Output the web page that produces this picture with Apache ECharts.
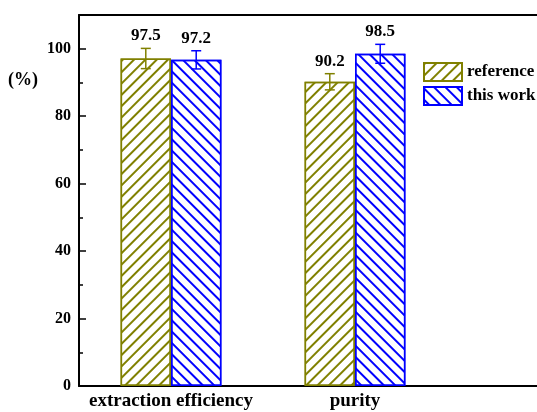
<!DOCTYPE html>
<html>
<head>
<meta charset="utf-8">
<script src="https://cdn.jsdelivr.net/npm/echarts@6/dist/echarts.min.js"></script>
<style>
html,body{margin:0;padding:0;background:#fff;}
#chart{width:537px;height:412px;}
</style>
</head>
<body>
<div id="chart"></div>
<script>
var categories = ['extraction efficiency', 'purity', ''];
var seriesNames = ['reference', 'this work'];
var referenceValues = [97.1, 90.2];
var referenceErrors = [3.0, 2.4];
var referenceLabels = ['97.5', '90.2'];
var thisWorkValues = [96.7, 98.5];
var thisWorkErrors = [2.7, 2.8];
var thisWorkLabels = ['97.2', '98.5'];
var yTicks = [0, 20, 40, 60, 80, 100];

var OLIVE = '#808000';
var BLUE = '#0000ff';
var FONT = 'Liberation Serif';
var BAR_RATIO = 0.274;

function hatch(color, rot) {
  return {
    symbol: 'rect', symbolSize: 1, color: color, backgroundColor: 'rgba(0,0,0,0)',
    dashArrayX: [1, 0], dashArrayY: [1.4, 5.6], rotation: rot
  };
}

function errSeries(name, values, errors, labels, sign, color) {
  var data = values.map(function (v, i) { return [i, v, errors[i]]; });
  return {
    type: 'custom', name: name + '_err', z: 5, silent: true,
    data: data,
    renderItem: function (params, api) {
      var idx = api.value(0), v = api.value(1), e = api.value(2);
      var band = api.size([1, 0])[0];
      var x = api.coord([idx, v])[0] + sign * band * BAR_RATIO / 2;
      var yt = api.coord([idx, v + e])[1];
      var yb = api.coord([idx, v - e])[1];
      var st = { stroke: color, lineWidth: 1.5 };
      return {
        type: 'group', children: [
          { type: 'line', shape: { x1: x, y1: yt, x2: x, y2: yb }, style: st },
          { type: 'line', shape: { x1: x - 5, y1: yt, x2: x + 5, y2: yt }, style: st },
          { type: 'line', shape: { x1: x - 5, y1: yb, x2: x + 5, y2: yb }, style: st },
          { type: 'text', x: x, y: yt - 4, style: {
            text: labels[params.dataIndex], fill: '#000', align: 'center', verticalAlign: 'bottom',
            font: 'bold 17px "' + FONT + '"' } }
        ]
      };
    }
  };
}

var chart = echarts.init(document.getElementById('chart'), null, { renderer: 'canvas' });
chart.setOption({
  animation: false,
  backgroundColor: '#fff',
  title: {
    text: '(%)', left: 8, top: 71, padding: 0,
    textStyle: { fontFamily: FONT, fontWeight: 'bold', fontSize: 18, color: '#000' }
  },
  legend: {
    data: seriesNames, orient: 'vertical', left: 423, top: 62, padding: 0,
    itemWidth: 38, itemHeight: 18, itemGap: 4, icon: 'rect',
    textStyle: { fontFamily: FONT, fontWeight: 'bold', fontSize: 17, color: '#000' }
  },
  grid: { left: 79, top: 15, width: 552, height: 371, containLabel: false, outerBoundsMode: 'none' },
  xAxis: [{
    type: 'category', data: categories, position: 'bottom',
    axisLine: { onZero: false, lineStyle: { color: '#000', width: 2 } },
    axisTick: { show: true, inside: true, alignWithLabel: true, length: 4, lineStyle: { color: '#000', width: 1.5 } },
    axisLabel: { margin: 6, color: '#000', fontFamily: FONT, fontWeight: 'bold', fontSize: 19, interval: 0 },
    splitLine: { show: false }
  }, {
    type: 'category', data: categories, position: 'top',
    axisLine: { show: true, onZero: false, lineStyle: { color: '#000', width: 2 } },
    axisTick: { show: false }, axisLabel: { show: false }, splitLine: { show: false }
  }],
  yAxis: [{
    type: 'value', min: 0, max: 110, interval: 20, position: 'left',
    axisLine: { show: true, onZero: false, lineStyle: { color: '#000', width: 2 } },
    axisTick: { show: true, inside: true, length: 7, lineStyle: { color: '#000', width: 1.5 } },
    axisLabel: { margin: 8, showMaxLabel: false, color: '#000', fontFamily: FONT, fontWeight: 'bold', fontSize: 16,
      formatter: function (v) { return yTicks.indexOf(v) >= 0 ? String(v) : ''; } },
    splitLine: { show: false }
  }, {
    type: 'value', min: 0, max: 110, interval: 10, position: 'left',
    axisLine: { show: false, onZero: false },
    axisTick: { show: true, inside: true, length: 4, lineStyle: { color: '#000', width: 1.5 } },
    axisLabel: { show: false }, splitLine: { show: false }
  }],
  series: [{
    type: 'bar', name: seriesNames[0], data: referenceValues, barWidth: (BAR_RATIO * 100) + '%', barGap: '0%',
    itemStyle: { color: '#fff', borderColor: OLIVE, borderWidth: 1.5, decal: hatch(OLIVE, -Math.PI / 4) }
  }, {
    type: 'bar', name: seriesNames[1], data: thisWorkValues, barWidth: (BAR_RATIO * 100) + '%', barGap: '0%',
    itemStyle: { color: '#fff', borderColor: BLUE, borderWidth: 1.5, decal: hatch(BLUE, Math.PI / 4) }
  },
  errSeries(seriesNames[0], referenceValues, referenceErrors, referenceLabels, -1, OLIVE),
  errSeries(seriesNames[1], thisWorkValues, thisWorkErrors, thisWorkLabels, 1, BLUE)
  ]
});
</script>
</body>
</html>
